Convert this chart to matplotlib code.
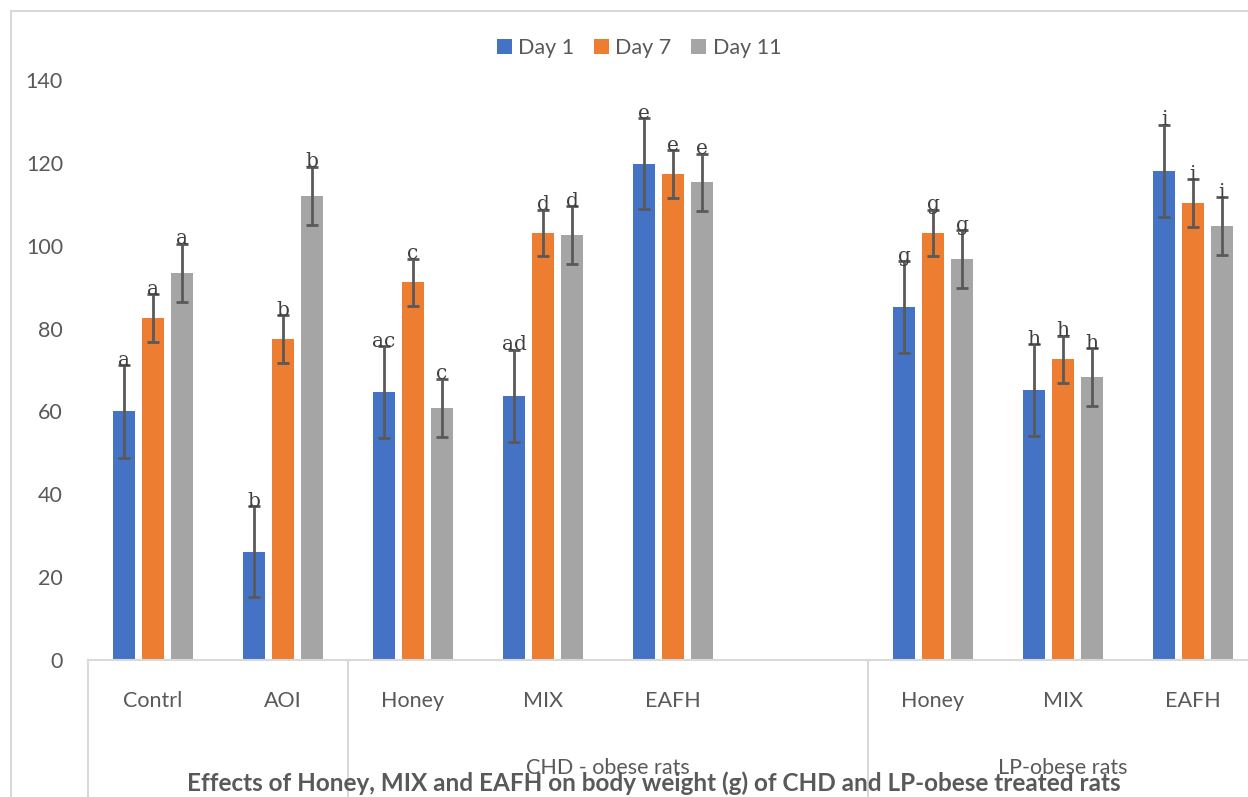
import numpy as np
import matplotlib.pyplot as plt
from matplotlib.lines import Line2D
from matplotlib.patches import Patch

plt.rcParams['font.family'] = ['Lato', 'DejaVu Sans']

# data (empty slot between the two groups)
categories = ["Contrl", "AOI", "Honey", "MIX", "EAFH", "", "Honey", "MIX", "EAFH"]
series = ["Day 1", "Day 7", "Day 11"]
day1 = [60.0, 26.1, 64.6, 63.8, 119.8, np.nan, 85.1, 65.2, 118.1]
day7 = [82.5, 77.4, 91.2, 103.1, 117.3, np.nan, 103.1, 72.6, 110.3]
day11 = [93.5, 112.1, 60.9, 102.5, 115.3, np.nan, 96.8, 68.2, 104.8]
err1 = [11.2, 11.0, 11.1, 11.1, 11.0, np.nan, 11.1, 11.1, 11.1]
err7 = [5.8, 5.8, 5.7, 5.6, 5.7, np.nan, 5.6, 5.7, 5.7]
err11 = [7.0, 7.0, 7.0, 7.0, 6.9, np.nan, 6.9, 7.0, 7.0]
lab1 = ["a", "b", "ac", "ad", "e", "", "g", "h", "i"]
lab7 = ["a", "b", "c", "d", "e", "", "g", "h", "i"]
lab11 = ["a", "b", "c", "d", "e", "", "g", "h", "i"]
groups = [("CHD - obese rats", 1.5, 5.5), ("LP-obese rats", 5.5, 8.5)]
separators = [-0.5, 1.5, 5.5]

COLORS = ["#4472C4", "#ED7D31", "#A5A5A5"]
TXT = "#595959"
GRID = "#D9D9D9"

W, H = 1248, 797
fig = plt.figure(figsize=(W / 100, H / 100), dpi=100)
ax = fig.add_axes([88 / W, 137 / H, 1170 / W, 580 / H])

x = np.arange(len(categories))
offsets = [-0.223, 0.0, 0.223]
values = [day1, day7, day11]
errs = [err1, err7, err11]
labels = [lab1, lab7, lab11]

for k in range(3):
    xs = x + offsets[k]
    v = np.array(values[k])
    e = np.array(errs[k])
    ax.bar(xs, v, width=0.173, color=COLORS[k], zorder=2)
    ax.errorbar(xs, v, yerr=e, fmt='none', ecolor=TXT, elinewidth=2.0,
                capsize=4.5, capthick=2.0, zorder=3)
    for xi, vi, ei, lb in zip(xs, v, e, labels[k]):
        if lb and not np.isnan(vi):
            ax.annotate(lb, (xi, vi + ei), xytext=(0, -0.5), textcoords='offset points',
                        ha='center', va='baseline', fontsize=14.5, color="#404040",
                        family='DejaVu Serif', zorder=4)

ax.set_xlim(-0.5, len(categories) - 0.5)
ax.set_ylim(0, 140)
ax.set_yticks(np.arange(0, 141, 20))
ax.set_xticks(x)
ax.set_xticklabels(categories)
ax.tick_params(axis='both', length=0, labelsize=15.5, labelcolor=TXT)
ax.tick_params(axis='y', pad=18)
ax.tick_params(axis='x', pad=22)
for s in ['top', 'right', 'left']:
    ax.spines[s].set_visible(False)
ax.spines['bottom'].set_color(GRID)
ax.spines['bottom'].set_linewidth(1.5)

# group separators and group labels under the axis
trans = ax.get_xaxis_transform()
for sx in separators:
    ax.plot([sx, sx], [0, -0.24], transform=trans, color=GRID, lw=1.5, clip_on=False)
for name, a, b in groups:
    ax.text((a + b) / 2, -0.186, name, transform=trans, ha='center', va='center',
            fontsize=15.5, color=TXT)

# chart-area border
fig.add_artist(Line2D([11 / W, 11 / W], [0, 1 - 11 / H], transform=fig.transFigure,
                      color=GRID, lw=1.5))
fig.add_artist(Line2D([11 / W, 1], [1 - 11 / H, 1 - 11 / H], transform=fig.transFigure,
                      color=GRID, lw=1.5))

handles = [Patch(facecolor=c, label=s) for c, s in zip(COLORS, series)]
leg = fig.legend(handles=handles, loc='center', bbox_to_anchor=(639 / W, 1 - 48 / H),
                 ncol=3, frameon=False, fontsize=15.5, handlelength=0.7, handleheight=0.7,
                 handletextpad=0.3, columnspacing=0.9)
for t in leg.get_texts():
    t.set_color(TXT)

fig.text(654 / W, 14 / H, "Effects of Honey, MIX and EAFH on body weight (g) of CHD and LP-obese treated rats",
         ha='center', va='center', fontsize=17.5, fontweight='bold', color=TXT)

fig.savefig("out.png", dpi=100)
